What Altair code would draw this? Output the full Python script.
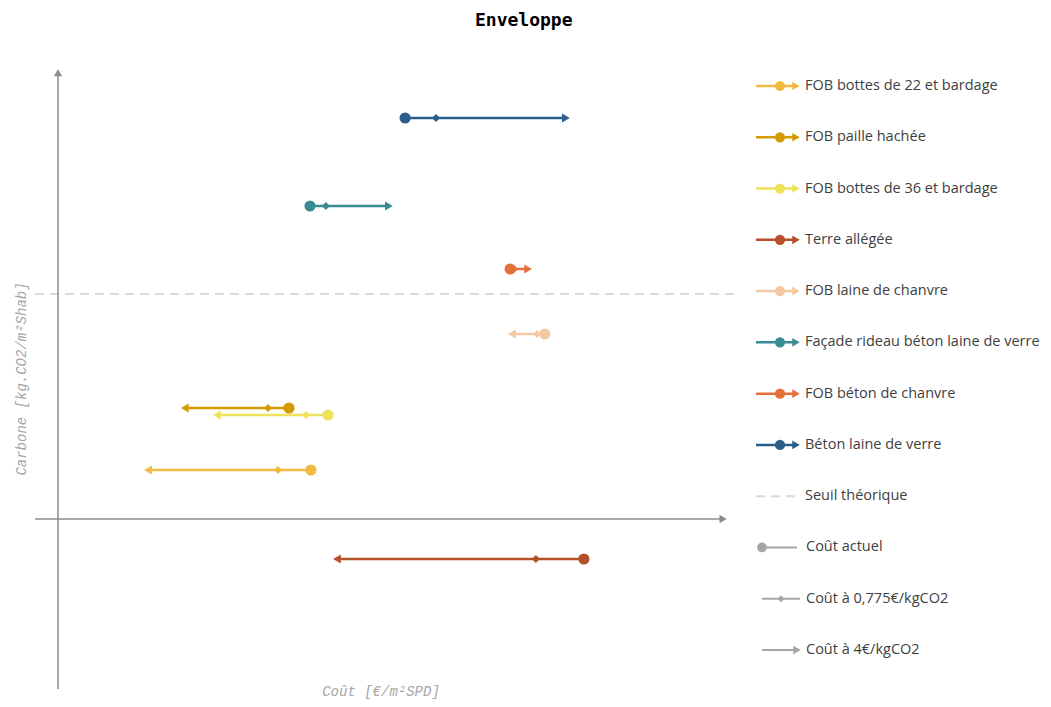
import altair as alt
import pandas as pd

# ---------------- data ----------------
series = [
    "FOB bottes de 22 et bardage",
    "FOB paille hachée",
    "FOB bottes de 36 et bardage",
    "Terre allégée",
    "FOB laine de chanvre",
    "Façade rideau béton laine de verre",
    "FOB béton de chanvre",
    "Béton laine de verre",
]
colors = ["#F2BA42", "#D49B00", "#F0E15C", "#B5502A", "#F2C9A2", "#3A8C94", "#E4703B", "#2B5F8B"]
carbone = [19.6, 44.4, 41.6, -16.0, 74.0, 125.2, 100.0, 160.4]
cout_actuel = [84.3, 77.0, 90.0, 175.3, 162.3, 84.0, 150.7, 115.7]
cout_0775 = [73.3, 70.0, 82.7, 159.3, 159.7, 89.3, 152.0, 126.0]
cout_4 = [30.0, 42.3, 53.0, 93.0, 151.3, 110.3, 156.7, 169.3]
seuil = 90.0

extra_labels = ["Seuil théorique", "Coût actuel", "Coût à 0,775€/kgCO2", "Coût à 4€/kgCO2"]
extra_colors = ["#D9D9D9", "#A6A6A6", "#A6A6A6", "#A6A6A6"]

# ---------------- layout constants ----------------
TOP = 41
W1, H1 = 732, 657
X_DOM = [-50 / 3, (W1 - 50) / 3]
Y_DOM = [-(TOP + H1 - 518) / 2.5, (518 - TOP) / 2.5]
AX_X = [-7.67, 221.7]     # x axis line extent (cost units)
AX_Y = [-68.0, 178.5]     # y axis line extent (carbon units)
TXT = "#404040"
GREY_AX = "#8C8C8C"

df = pd.DataFrame({
    "serie": series,
    "carbone": carbone,
    "actuel": cout_actuel,
    "c0775": cout_0775,
    "c4": cout_4,
})
df["dir"] = ["right" if b > a else "left" for a, b in zip(cout_actuel, cout_4)]

all_labels = series + extra_labels
all_colors = colors + extra_colors
cs = alt.Scale(domain=all_labels, range=all_colors)
xs = alt.Scale(domain=X_DOM, nice=False, zero=False)
ys = alt.Scale(domain=Y_DOM, nice=False, zero=False)

X = lambda f: alt.X(f, type="quantitative", scale=xs, axis=None)
Y = lambda f: alt.Y(f, type="quantitative", scale=ys, axis=None)
C = alt.Color("serie:N", scale=cs, legend=None)

# threshold
thr = alt.Chart(pd.DataFrame({"x": [AX_X[0]], "x2": [X_DOM[1] - 1], "y": [seuil]})).mark_rule(
    color="#D9D9D9", strokeWidth=2, strokeDash=[9, 6]
).encode(x=X("x"), x2="x2", y=Y("y"))

# axes
xaxis = alt.Chart(pd.DataFrame({"x": [AX_X[0]], "x2": [AX_X[1]], "y": [0.0]})).mark_rule(
    color=GREY_AX, strokeWidth=1.5
).encode(x=X("x"), x2="x2", y=Y("y"))
xarrow = alt.Chart(pd.DataFrame({"x": [AX_X[1]], "y": [0.0]})).mark_point(
    shape="triangle-right", filled=True, size=70, color=GREY_AX, opacity=1
).encode(x=X("x"), y=Y("y"))
yaxis = alt.Chart(pd.DataFrame({"x": [0.0], "y": [AX_Y[0]], "y2": [AX_Y[1]]})).mark_rule(
    color=GREY_AX, strokeWidth=1.5
).encode(x=X("x"), y=Y("y"), y2="y2")
yarrow = alt.Chart(pd.DataFrame({"x": [0.0], "y": [AX_Y[1]]})).mark_point(
    shape="triangle-up", filled=True, size=70, color=GREY_AX, opacity=1
).encode(x=X("x"), y=Y("y"))

# series
lines = alt.Chart(df).mark_rule(strokeWidth=2.5).encode(x=X("actuel"), x2="c4", y=Y("carbone"), color=C)
arrows = alt.Chart(df).mark_point(filled=True, size=80, opacity=1).encode(
    x=X("c4"), y=Y("carbone"), color=C,
    shape=alt.Shape("dir:N", scale=alt.Scale(domain=["right", "left"], range=["triangle-right", "triangle-left"]), legend=None),
)
diamonds = alt.Chart(df).mark_point(shape="diamond", filled=True, size=64, opacity=1).encode(
    x=X("c0775"), y=Y("carbone"), color=C)
circles = alt.Chart(df).mark_point(shape="circle", filled=True, size=125, opacity=1).encode(
    x=X("actuel"), y=Y("carbone"), color=C)

# axis titles
ytitle = alt.Chart(pd.DataFrame({"t": ["Carbone [kg.CO2/m²Shab]"]})).mark_text(
    angle=270, font="Liberation Mono", fontStyle="italic", fontSize=14, color="#A6A6A6"
).encode(x=alt.value(14), y=alt.value(378 - TOP), text="t:N")
xtitle = alt.Chart(pd.DataFrame({"t": ["Coût [€/m²SPD]"]})).mark_text(
    font="Liberation Mono", fontStyle="italic", fontSize=14, color="#A6A6A6"
).encode(x=alt.value(373), y=alt.value(H1 - 7), text="t:N")

main = alt.layer(
    thr, xaxis, xarrow, yaxis, yarrow, lines, arrows, diamonds, circles, ytitle, xtitle
).properties(width=W1, height=H1)

# ---------------- legend panel ----------------
LY = alt.Y("label:N", scale=alt.Scale(type="point", domain=all_labels, range=[85 - TOP, 649 - TOP], padding=0),
           axis=None)
LC = alt.Color("label:N", scale=cs, legend=None)
ser_df = pd.DataFrame({"label": series})
seuil_df = pd.DataFrame({"label": [extra_labels[0]]})
act_df = pd.DataFrame({"label": [extra_labels[1]]})
d_df = pd.DataFrame({"label": [extra_labels[2]]})
a_df = pd.DataFrame({"label": [extra_labels[3]]})

FONT = "Open Sans"
FS = 14.5
lg = [
    alt.Chart(ser_df).mark_rule(strokeWidth=2.5).encode(x=alt.value(16), x2=alt.value(54), y=LY, color=LC),
    alt.Chart(ser_df).mark_point(shape="circle", filled=True, size=105, opacity=1).encode(x=alt.value(40), y=LY, color=LC),
    alt.Chart(ser_df).mark_point(shape="triangle-right", filled=True, size=75, opacity=1).encode(x=alt.value(56), y=LY, color=LC),
    alt.Chart(seuil_df).mark_rule(strokeWidth=2, strokeDash=[9, 6]).encode(x=alt.value(16), x2=alt.value(60), y=LY, color=LC),
    alt.Chart(act_df).mark_rule(strokeWidth=2).encode(x=alt.value(22), x2=alt.value(57), y=LY, color=LC),
    alt.Chart(act_df).mark_point(shape="circle", filled=True, size=95, opacity=1).encode(x=alt.value(22), y=LY, color=LC),
    alt.Chart(d_df).mark_rule(strokeWidth=2).encode(x=alt.value(22), x2=alt.value(60), y=LY, color=LC),
    alt.Chart(d_df).mark_point(shape="diamond", filled=True, size=50, opacity=1).encode(x=alt.value(41), y=LY, color=LC),
    alt.Chart(a_df).mark_rule(strokeWidth=2).encode(x=alt.value(22), x2=alt.value(56), y=LY, color=LC),
    alt.Chart(a_df).mark_point(shape="triangle-right", filled=True, size=75, opacity=1).encode(x=alt.value(57), y=LY, color=LC),
    alt.Chart(pd.DataFrame({"label": series + [extra_labels[0]]})).mark_text(
        align="left", baseline="middle", font=FONT, fontSize=FS, color=TXT
    ).encode(x=alt.value(65), y=LY, text="label:N"),
    alt.Chart(pd.DataFrame({"label": extra_labels[1:]})).mark_text(
        align="left", baseline="middle", font=FONT, fontSize=FS, color=TXT
    ).encode(x=alt.value(66), y=LY, text="label:N"),
]
legend = alt.layer(*lg).properties(width=298, height=H1)

chart = alt.hconcat(main, legend, spacing=0).properties(
    title=alt.TitleParams("Enveloppe", font="DejaVu Sans Mono", fontSize=18, fontWeight="bold",
                          anchor="middle", color="#000000", offset=12),
    padding={"left": 0, "top": 4, "right": 0, "bottom": 0},
).configure(background="white", view=alt.ViewConfig(stroke=None))

chart.save("out.html", embed_options={"renderer": "svg", "actions": False})
